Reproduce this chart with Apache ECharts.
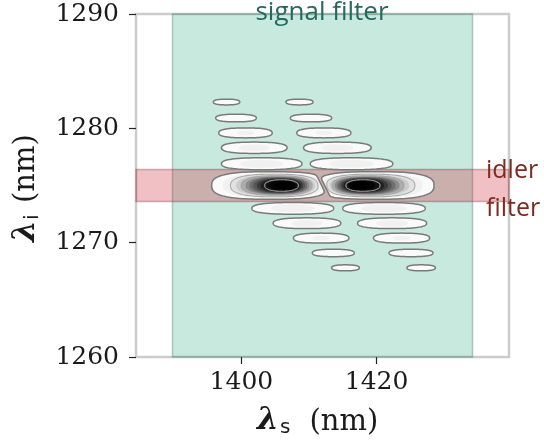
<!DOCTYPE html>
<html>
<head>
<meta charset="utf-8">
<script src="https://cdn.jsdelivr.net/npm/echarts@6/dist/echarts.min.js"></script>
<style>
  html, body { margin: 0; padding: 0; background: #ffffff; }
  #chart { width: 544px; height: 442px; }
</style>
</head>
<body>
<div id="chart"></div>
<script>
// Axes: signal wavelength (x) and idler wavelength (y), nm
const xRange = [1384.4, 1439.6];
const yRange = [1260, 1290];
const xTicks = [1400, 1420];
const yTicks = [1260, 1270, 1280, 1290];

// Filter pass bands, nm
const signalBand = [1389.8, 1434.2];
const idlerBand = [1273.6, 1276.4];

// Main lobes of the joint spectral amplitude (outer contour + peak)
const mainS = [1404.3, 1419.7];
const mainI = [1275.0, 1275.0];
const mainW = [17.4, 17.6];
const mainH = [2.42, 2.42];
const mainPeakS = [1406.6, 1417.3];
const mainPeakI = [1275.0, 1275.0];
const mainAmp = [1.0, 1.0];
// node line between the two main lobes (λs at λi = nodeI, and dλs/dλi)
const nodeS = 1412.1;
const nodeI = 1275.0;
const nodeTilt = -0.83;

// Side lobes: two columns, each with five lobes above and five below the main row
const sideS = [1397.8, 1399.2, 1400.6, 1401.9, 1403.0, 1407.6, 1409.7, 1411.8, 1413.6, 1415.4,
               1408.6, 1410.3, 1412.2, 1414.2, 1416.3, 1421.1, 1422.3, 1423.7, 1425.1, 1426.6];
const sideI = [1282.3, 1280.9, 1279.6, 1278.3, 1276.9, 1273.0, 1271.7, 1270.4, 1269.1, 1267.8,
               1282.3, 1280.9, 1279.6, 1278.3, 1276.9, 1273.0, 1271.7, 1270.4, 1269.1, 1267.8];
const sideW = [3.9, 6.0, 7.9, 9.7, 11.9, 12.1, 10.0, 8.2, 6.2, 4.1,
               4.0, 6.1, 8.0, 10.0, 12.2, 12.2, 10.2, 8.3, 6.5, 4.2];
const sideH = [0.5, 0.67, 0.87, 0.99, 1.05, 1.02, 0.94, 0.87, 0.65, 0.52,
               0.5, 0.67, 0.87, 0.99, 1.05, 1.02, 0.94, 0.87, 0.65, 0.52];
const sideAmp = [0.02, 0.03, 0.05, 0.06, 0.07, 0.07, 0.06, 0.05, 0.03, 0.02,
                 0.02, 0.03, 0.05, 0.06, 0.07, 0.07, 0.06, 0.05, 0.03, 0.02];

// Contour levels (relative amplitude) and the ones that get an outline
const levels = [0.01, 0.045, 0.1, 0.17, 0.25, 0.34, 0.43, 0.52, 0.61, 0.7, 0.79, 0.88, 0.96];
const lineLevels = [0.01, 0.1, 0.25, 0.79];

// lobe records: [cx, cy, w, h, peakX, peakY, amp, clipSide, squareness]
const lobes = [];
for (let k = 0; k < mainS.length; k++) {
  lobes.push([mainS[k], mainI[k], mainW[k], mainH[k], mainPeakS[k], mainPeakI[k], mainAmp[k], k === 0 ? -1 : 1, 2.8]);
}
for (let k = 0; k < sideS.length; k++) {
  lobes.push([sideS[k], sideI[k], sideW[k], sideH[k], sideS[k], sideI[k], sideAmp[k], 0, 2.5]);
}

// matplotlib "Greys"-like ramp
const greyStops = [1.0, 0.941, 0.851, 0.741, 0.588, 0.451, 0.322, 0.145, 0.0];
function greys(v) {
  v = Math.max(0, Math.min(1, v));
  const f = v * (greyStops.length - 1);
  const i = Math.min(greyStops.length - 2, Math.floor(f));
  const t = f - i;
  const g = Math.round(255 * (greyStops[i] + (greyStops[i + 1] - greyStops[i]) * t));
  return 'rgb(' + g + ',' + g + ',' + g + ')';
}

function smin(a, b, k) {
  const m = Math.min(a, b);
  return m - k * Math.log(Math.exp(-(a - m) / k) + Math.exp(-(b - m) / k));
}

// outline of one contour level L of a lobe, in pixel coordinates
function contourPoints(api, v, L) {
  const amp = v[6];
  const s = Math.pow(Math.log(amp / L) / Math.log(amp / levels[0]), 0.42);
  const sy = Math.pow(s, 0.7);
  const cx = v[4] + (v[0] - v[4]) * s;
  const cy = v[5] + (v[1] - v[5]) * s;
  const rx = v[2] / 2 * s, ry = v[3] / 2 * sy;
  const pe = 2 + (v[8] - 2) * s;
  const side = v[7];
  const gap = 0.22;
  const pts = [];
  const n = 120;
  for (let k = 0; k < n; k++) {
    const t = 2 * Math.PI * k / n;
    const ct = Math.cos(t), st = Math.sin(t);
    let x = cx + rx * Math.sign(ct) * Math.pow(Math.abs(ct), 2 / pe);
    const y = cy + ry * Math.sign(st) * Math.pow(Math.abs(st), 2 / pe);
    if (side !== 0) {
      const lx = nodeS + nodeTilt * (y - nodeI) + side * gap;
      x = side < 0 ? smin(x, lx, 0.3) : -smin(-x, -lx, 0.3);
    }
    pts.push(api.coord([x, y]));
  }
  return pts;
}

function renderLobe(params, api) {
  const v = [];
  for (let d = 0; d < 9; d++) v.push(api.value(d));
  const amp = v[6];
  const children = [];
  for (let k = 0; k < levels.length; k++) {
    if (levels[k] >= amp) break;
    const hi = k + 1 < levels.length ? levels[k + 1] : 1;
    const mid = (levels[k] + hi) / 2;
    children.push({
      type: 'polygon',
      shape: { points: contourPoints(api, v, levels[k]) },
      style: { fill: greys(1 - Math.pow(1 - mid, 1.6)), stroke: null }
    });
  }
  for (let k = 0; k < lineLevels.length; k++) {
    if (lineLevels[k] >= amp) break;
    children.push({
      type: 'polygon',
      shape: { points: contourPoints(api, v, lineLevels[k]) },
      style: { fill: null, stroke: k === 0 ? '#7a7a7a' : 'rgba(165,165,165,0.9)', lineWidth: k === 0 ? 1.5 : 1.1 }
    });
  }
  return { type: 'group', children: children };
}

const chart = echarts.init(document.getElementById('chart'), null, { renderer: 'canvas' });

const serif = 'DejaVu Serif';
const tickText = function (v) { return String(v); };

chart.setOption({
  animation: false,
  backgroundColor: '#ffffff',
  grid: {
    left: 136, right: 35, top: 14, bottom: 85,
    show: true, borderColor: '#cccccc', borderWidth: 2.5, backgroundColor: 'transparent'
  },
  xAxis: {
    type: 'value', min: xRange[0], max: xRange[1],
    axisLine: { show: false },
    splitLine: { show: false },
    axisTick: { show: true, inside: false, length: 7, customValues: xTicks, lineStyle: { color: '#222222', width: 1.2 } },
    axisLabel: { customValues: xTicks, formatter: tickText, margin: 13, fontFamily: serif, fontSize: 25, color: '#1a1a1a' }
  },
  yAxis: {
    type: 'value', min: yRange[0], max: yRange[1],
    axisLine: { show: false },
    splitLine: { show: false },
    axisTick: { show: true, inside: false, length: 7, customValues: yTicks, lineStyle: { color: '#222222', width: 1.2 } },
    axisLabel: { customValues: yTicks, formatter: tickText, margin: 17, fontFamily: serif, fontSize: 25, color: '#1a1a1a' }
  },
  series: [
    {
      type: 'line', data: [], silent: true, z: 1,
      markArea: {
        silent: true,
        data: [
          [{ xAxis: signalBand[0], itemStyle: { color: 'rgba(68,182,145,0.3)', borderColor: 'rgba(60,110,95,0.35)', borderWidth: 1.5 } },
           { xAxis: signalBand[1] }],
          [{ yAxis: idlerBand[0], itemStyle: { color: 'rgba(205,48,58,0.3)', borderColor: 'rgba(110,50,50,0.35)', borderWidth: 1.5 } },
           { yAxis: idlerBand[1] }]
        ]
      }
    },
    {
      type: 'custom', z: 3, clip: true, silent: true,
      renderItem: renderLobe,
      encode: { x: 0, y: 1 },
      data: lobes
    }
  ],
  graphic: [
    { type: 'text', z: 10, x: 322, y: 13,
      style: { text: 'signal filter', font: '26px "Open Sans"', fill: '#236a5b', align: 'center', verticalAlign: 'middle' } },
    { type: 'text', z: 10, x: 486, y: 171,
      style: { text: 'idler', font: '25px "Open Sans"', fill: '#7d2a22', align: 'left', verticalAlign: 'middle' } },
    { type: 'text', z: 10, x: 486, y: 209,
      style: { text: 'filter', font: '25px "Open Sans"', fill: '#7d2a22', align: 'left', verticalAlign: 'middle' } },
    // x-axis name: λs (nm)
    { type: 'group', x: 0, y: 0, children: [
      { type: 'text', x: 257, y: 421,
        style: { text: 'λ', font: 'italic bold 31px "DejaVu Serif"', fill: '#1a1a1a', align: 'left', verticalAlign: 'middle' } },
      { type: 'text', x: 280, y: 428,
        style: { text: 's', font: '20px "DejaVu Sans"', fill: '#1a1a1a', align: 'left', verticalAlign: 'middle' } },
      { type: 'text', x: 309.5, y: 422,
        style: { text: '(nm)', font: '29px "DejaVu Serif"', fill: '#1a1a1a', align: 'left', verticalAlign: 'middle' } }
    ] },
    // y-axis name: λi (nm), rotated
    { type: 'group', x: 26.5, y: 242, rotation: Math.PI / 2, children: [
      { type: 'text', x: 0, y: -1,
        style: { text: 'λ', font: 'italic bold 31px "DejaVu Serif"', fill: '#1a1a1a', align: 'left', verticalAlign: 'middle' } },
      { type: 'text', x: 22, y: 6,
        style: { text: 'i', font: '20px "DejaVu Sans"', fill: '#1a1a1a', align: 'left', verticalAlign: 'middle' } },
      { type: 'text', x: 39, y: 0,
        style: { text: '(nm)', font: '29px "DejaVu Serif"', fill: '#1a1a1a', align: 'left', verticalAlign: 'middle' } }
    ] }
  ]
});
</script>
</body>
</html>
